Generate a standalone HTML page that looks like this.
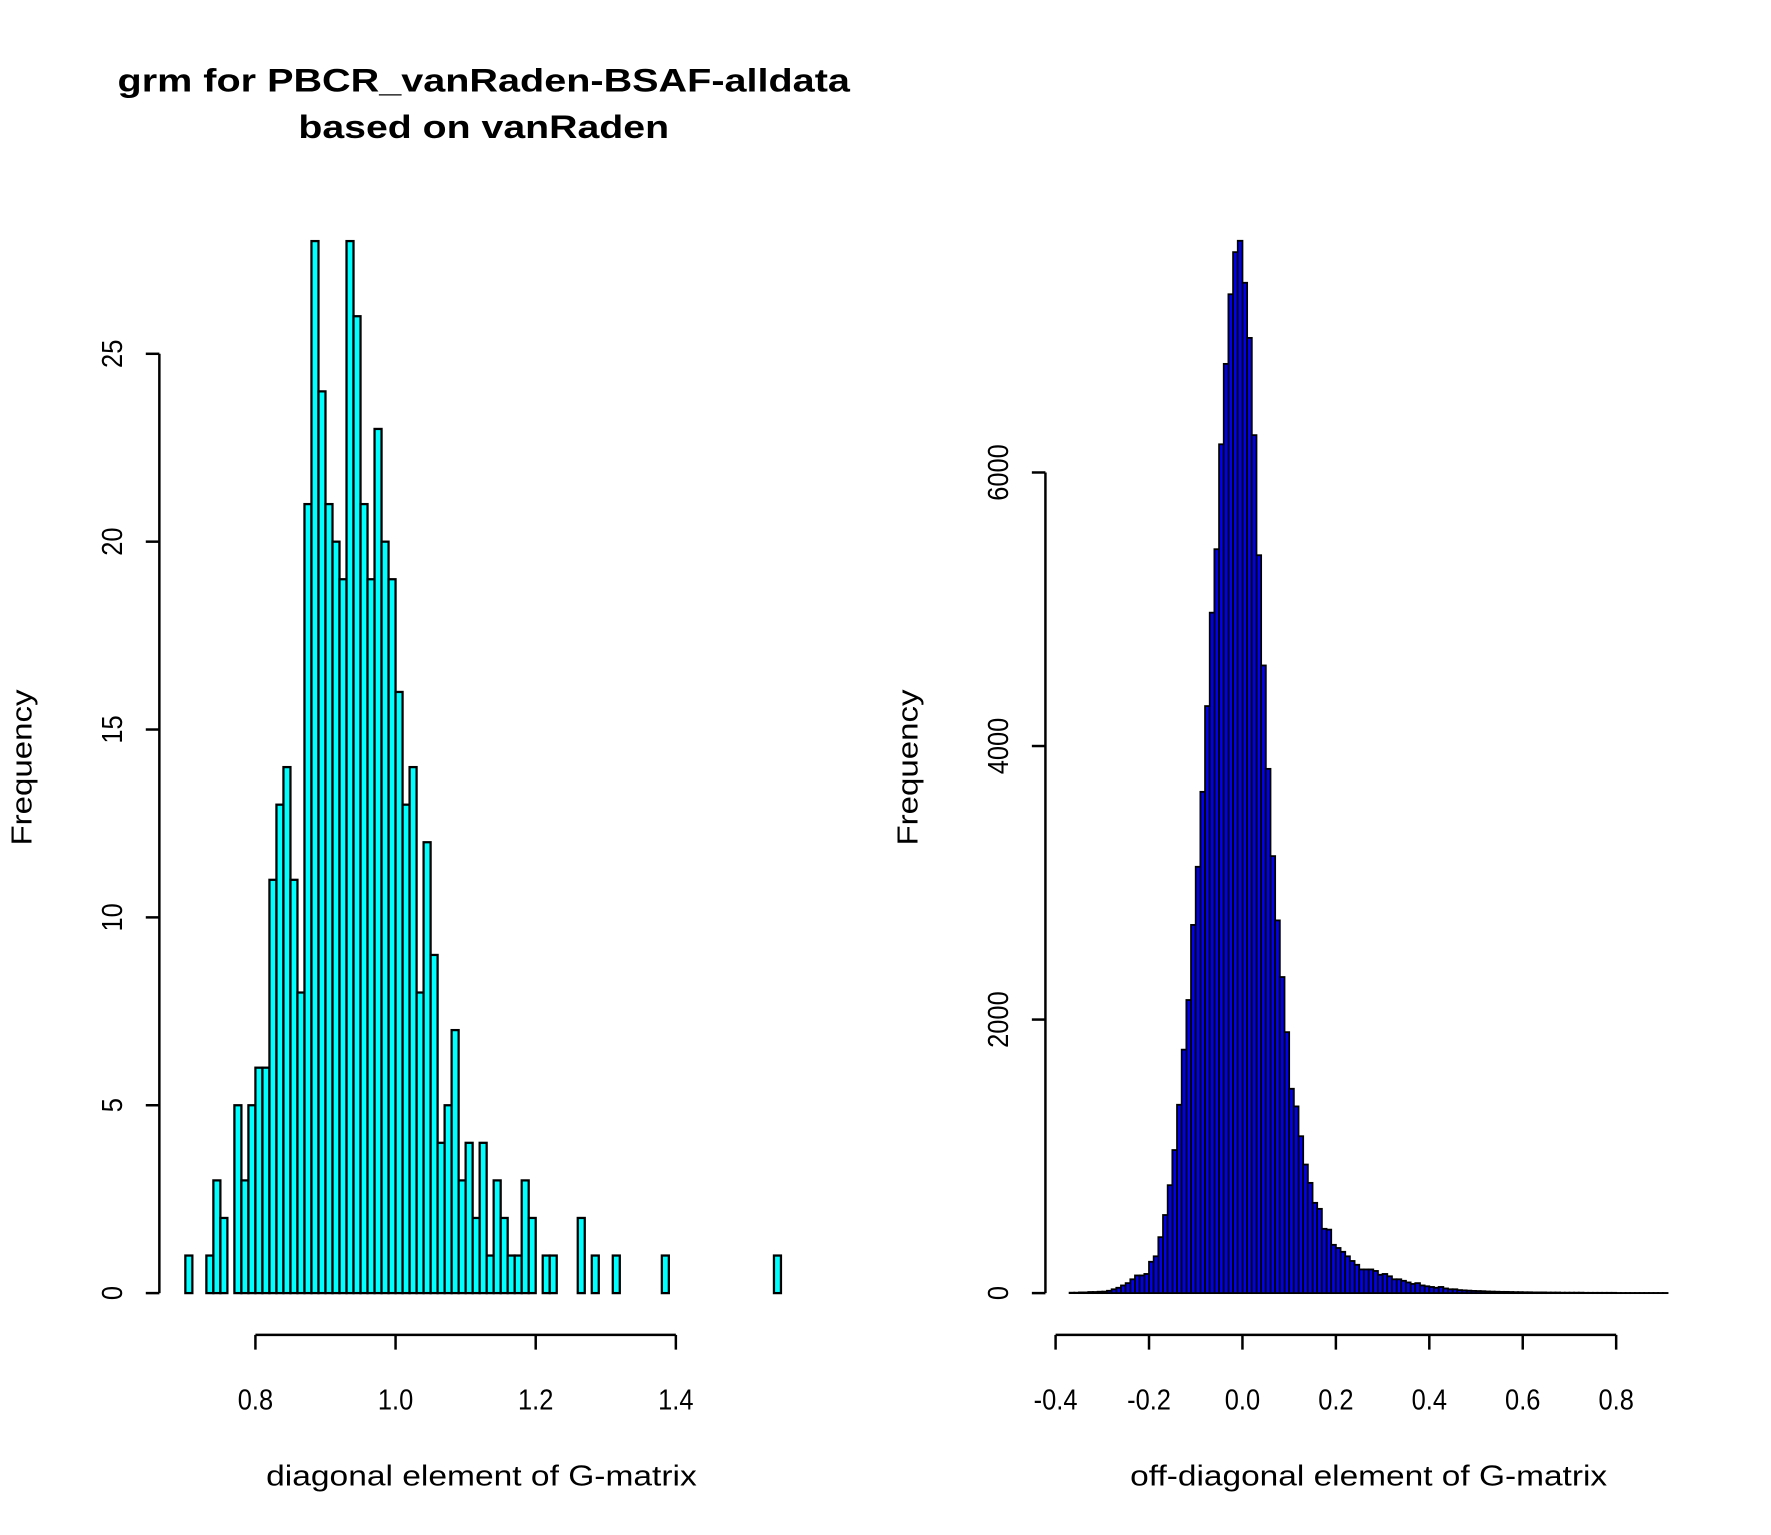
<!DOCTYPE html>
<html><head><meta charset="utf-8"><style>
html,body{margin:0;padding:0;background:#fff;}
svg{display:block;font-family:"Liberation Sans",Arial,sans-serif;}
</style></head><body>
<svg id="chart" width="1771" height="1535" viewBox="0 0 1567 1358" preserveAspectRatio="none" xmlns="http://www.w3.org/2000/svg">
<rect width="1567" height="1358" fill="#fff"/>
<text x="428" y="81" font-size="29" font-weight="bold" text-anchor="middle" textLength="648" lengthAdjust="spacingAndGlyphs">grm for PBCR_vanRaden-BSAF-alldata</text>
<text x="428" y="122" font-size="29" font-weight="bold" text-anchor="middle" textLength="328" lengthAdjust="spacingAndGlyphs">based on vanRaden</text>
<g id="left"></g>
<g id="right"></g>
</svg>
<script>
// Left histogram data (bins of 0.01 starting at 0.70)
const leftStart = 0.70;
const leftBinWidth = 0.01;
const leftCounts = [1,0,0,1,3,2,0,5,3,5,6,6,11,13,14,11,8,21,28,24,21,20,19,28,26,21,19,23,20,19,16,13,14,8,12,9,4,5,7,3,4,2,4,1,3,2,1,1,3,2,0,1,1,0,0,0,2,0,1,0,0,1,0,0,0,0,0,0,1,0,0,0,0,0,0,0,0,0,0,0,0,0,0,0,1];
const leftXTicks = [0.8,1.0,1.2,1.4];
const leftXTickLabels = ["0.8","1.0","1.2","1.4"];
const leftYTicks = [0,5,10,15,20,25];

// Right histogram data (bins of 0.01 starting at -0.37)
const rightStart = -0.37;
const rightBinWidth = 0.01;
const rightCounts = [3,3,5,5,8,8,10,11,17,28,39,56,73,101,129,129,140,229,269,409,571,789,1046,1377,1780,2143,2692,3117,3665,4292,4975,5439,6206,6794,7303,7611,7694,7387,6984,6273,5395,4589,3833,3195,2725,2311,1908,1494,1365,1147,940,806,660,616,470,464,353,330,302,269,235,207,173,173,173,162,134,140,123,101,101,90,78,67,73,56,50,45,39,45,34,28,28,22,20,18,16,15,14,12,11,10,9,9,8,7,7,6,6,5,5,5,4,4,4,3,3,3,3,3,2,2,2,2,2,2,2,1,1,1,1,1,1,1,1,1,1,1];
const rightXTicks = [-0.4,-0.2,0.0,0.2,0.4,0.6,0.8];
const rightXTickLabels = ["-0.4","-0.2","0.0","0.2","0.4","0.6","0.8"];
const rightYTicks = [0,2000,4000,6000];

const NS = "http://www.w3.org/2000/svg";
function mk(parent, tag, attrs, text) {
  const e = document.createElementNS(NS, tag);
  for (const k in attrs) e.setAttribute(k, attrs[k]);
  if (text !== undefined) e.textContent = text;
  parent.appendChild(e);
  return e;
}

function drawHist(g, cfg) {
  const xs = v => cfg.x0px + (v - cfg.x0) / (cfg.x1 - cfg.x0) * (cfg.x1px - cfg.x0px);
  const ys = v => cfg.basePx - v / cfg.yTop * (cfg.basePx - cfg.yTopPx);
  cfg.counts.forEach((c, i) => {
    const a = cfg.start + i * cfg.bw, b = a + cfg.bw;
    const r = mk(g, "rect", {x: xs(a), y: ys(c), width: xs(b) - xs(a), height: ys(0) - ys(c),
      fill: cfg.fill, stroke: "#000", "stroke-width": cfg.sw});
    
    
  });
  const ya = mk(g, "line", {x1: cfg.yAxisX, x2: cfg.yAxisX, y1: ys(cfg.yTicks[0]), y2: ys(cfg.yTicks[cfg.yTicks.length-1]), stroke: "#000", "stroke-width": 2.2});
  
  
  cfg.yTicks.forEach(t => {
    const tk = mk(g, "line", {x1: cfg.yAxisX - 12, x2: cfg.yAxisX, y1: ys(t), y2: ys(t), stroke: "#000", "stroke-width": 2.2});
    
    
    const lb = mk(g, "text", {x: 0, y: 0, "font-size": 25, "text-anchor": "middle",
      transform: `translate(${cfg.yAxisX - 42},${ys(t)}) rotate(-90) translate(0,9) scale(0.9,1)`}, String(t));
    
    
  });
  const xa = mk(g, "line", {x1: xs(cfg.xTicks[0]), x2: xs(cfg.xTicks[cfg.xTicks.length-1]), y1: 1181, y2: 1181, stroke: "#000", "stroke-width": 2.2});
  
  
  cfg.xTicks.forEach((t, i) => {
    const tk = mk(g, "line", {x1: xs(t), x2: xs(t), y1: 1181, y2: 1194, stroke: "#000", "stroke-width": 2.2});
    
    
    const lb = mk(g, "text", {x: 0, y: 0, "font-size": 25, "text-anchor": "middle",
      transform: `translate(${xs(t)},1247) scale(0.9,1)`}, cfg.xLabels[i]);
    
    
  });
  const xt = mk(g, "text", {x: cfg.xTitleX, y: 1314, "font-size": 25, "text-anchor": "middle", textLength: cfg.xTitleLen, lengthAdjust: "spacingAndGlyphs"}, cfg.xTitle);
  
  
  const yt = mk(g, "text", {x: 0, y: 0, "font-size": 25, "text-anchor": "middle", textLength: 138, lengthAdjust: "spacingAndGlyphs",
    transform: `translate(${cfg.yTitleX},679) rotate(-90)`}, "Frequency");
  
  
}

drawHist(document.getElementById("left"), {
  counts: leftCounts, start: leftStart, bw: leftBinWidth,
  x0: 0.8, x1: 1.4, x0px: 226, x1px: 598,
  yTop: 25, yTopPx: 313, basePx: 1144,
  yTicks: leftYTicks, xTicks: leftXTicks, xLabels: leftXTickLabels,
  yAxisX: 141, fill: "#00FFFF", sw: 2,
  xTitle: "diagonal element of G-matrix", xTitleX: 426, xTitleLen: 381, yTitleX: 28
});
drawHist(document.getElementById("right"), {
  counts: rightCounts, start: rightStart, bw: rightBinWidth,
  x0: -0.4, x1: 0.8, x0px: 934, x1px: 1430,
  yTop: 6000, yTopPx: 418, basePx: 1144,
  yTicks: rightYTicks, xTicks: rightXTicks, xLabels: rightXTickLabels,
  yAxisX: 925, fill: "#0000EE", sw: 1.6,
  xTitle: "off-diagonal element of G-matrix", xTitleX: 1211, xTitleLen: 422, yTitleX: 812
});
</script>
</body></html>
